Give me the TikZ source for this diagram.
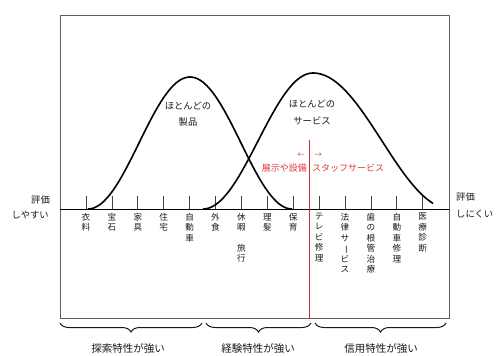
\documentclass[tikz,border=0pt]{standalone}
\usepackage{fontspec}
\setmainfont{Noto Sans CJK JP}
\usepackage{graphicx}
\usetikzlibrary{decorations.pathreplacing}
\definecolor{redln}{RGB}{205,45,55}
\definecolor{redtx}{RGB}{222,60,60}
\definecolor{framec}{RGB}{95,95,95}
\definecolor{txt}{RGB}{25,25,25}
\newcommand{\vbar}{\rotatebox[origin=c]{-90}{ー}}
\tikzset{
  framebox/.style={draw=framec, line width=0.9pt},
  axisline/.style={draw=black, line width=0.8pt},
  tickline/.style={draw=black!75, line width=0.7pt},
  bell/.style={draw=black, line width=1.6pt, line join=round},
  lab/.style={inner sep=0pt, text=txt, font=\fontsize{9.3}{11}\selectfont},
  vlab/.style={inner sep=0pt, anchor=north, align=center, text=txt, font=\fontsize{8.6}{10.4}\selectfont},
  redlab/.style={inner sep=0pt, text=redtx, font=\fontsize{9}{11}\selectfont},
  blab/.style={inner sep=0pt, text=txt, font=\fontsize{10.5}{12}\selectfont},
  bracedeco/.style={draw=txt, line width=1pt, decorate, decoration={brace, mirror, amplitude=9pt}}
}
\begin{document}
\begin{tikzpicture}[x=1pt,y=-1pt]
\useasboundingbox (0,0) rectangle (498,356);
% frame
\draw[framebox] (60,15) rectangle (449,318);
% axis
\coordinate (axL) at (60,209);
\coordinate (axR) at (449,209);
\draw[axisline] (axL) -- (axR);
\foreach \i in {0,...,13} {
  \draw[tickline] ({86+25.9*\i},196) -- ({86+25.9*\i},209);
}
% red divider
\draw[redln, line width=1pt] (309,140) -- (309,317.5);
% bell curve: products
\draw[bell] plot[domain=88:292, samples=90, smooth] (\x, {209 - 66*(1+cos(1.7647*(\x-190)))});
% bell curve: services
\draw[bell] plot[domain=203:313, samples=60, smooth] (\x, {209 - 68*(1+cos(1.63636*(\x-313)))})
  -- plot[domain=313:433, samples=60, smooth] (\x, {209 - 68*(1+cos(1.30435*(\x-313)))});
% curve labels
\node[lab] (p1) at (188,106) {ほとんどの};
\node[lab] (p2) at (188,122) {製品};
\node[lab] (s1) at (312,104) {ほとんどの};
\node[lab] (s2) at (312,121) {サービス};
% red labels
\node[redlab, font=\fontsize{7.5}{9}\selectfont] (la) at (301,155) {←};
\node[redlab, font=\fontsize{7.5}{9}\selectfont] (ra) at (318,155) {→};
\node[redlab, anchor=east] (eq) at (307,168) {展示や設備};
\node[redlab, anchor=west] (st) at (312,168) {スタッフサービス};
% side labels
\node[lab, anchor=east] (ev1) at (50,200) {評価};
\node[lab, anchor=east] (ez) at (49,215) {しやすい};
\node[lab, anchor=west] (ev2) at (456,197) {評価};
\node[lab, anchor=west] (hd) at (456,214) {しにくい};
% tick labels
\node[vlab] (t0) at (86.0,213) {衣\\料};
\node[vlab] (t1) at (111.9,213) {宝\\石};
\node[vlab] (t2) at (137.8,213) {家\\具};
\node[vlab] (t3) at (163.7,213) {住\\宅};
\node[vlab] (t4) at (189.6,213) {自\\動\\車};
\node[vlab] (t5) at (215.5,213) {外\\食};
\node[vlab] (t6) at (241.4,213) {休\\暇\\[10.4pt]旅\\行};
\node[vlab] (t7) at (267.3,213) {理\\髪};
\node[vlab] (t8) at (293.2,213) {保\\育};
\node[vlab] (t9) at (319.1,213) {テ\\レ\\ビ\\修\\理};
\node[vlab] (t10) at (345.0,213) {法\\律\\サ\\\vbar\\ビ\\ス};
\node[vlab] (t11) at (370.9,213) {歯\\の\\根\\管\\治\\療};
\node[vlab] (t12) at (396.8,213) {自\\動\\車\\修\\理};
\node[vlab] (t13) at (422.7,213) {医\\療\\診\\断};
% braces
\coordinate (b1a) at (60,323); \coordinate (b1b) at (202,323);
\coordinate (b2a) at (206,323); \coordinate (b2b) at (311,323);
\coordinate (b3a) at (315,323); \coordinate (b3b) at (446,323);
\draw[bracedeco] (b1a) -- (b1b);
\draw[bracedeco] (b2a) -- (b2b);
\draw[bracedeco] (b3a) -- (b3b);
\node[blab] (g1) at (128,349) {探索特性が強い};
\node[blab] (g2) at (258,349) {経験特性が強い};
\node[blab] (g3) at (381,349) {信用特性が強い};
\end{tikzpicture}
\end{document}
